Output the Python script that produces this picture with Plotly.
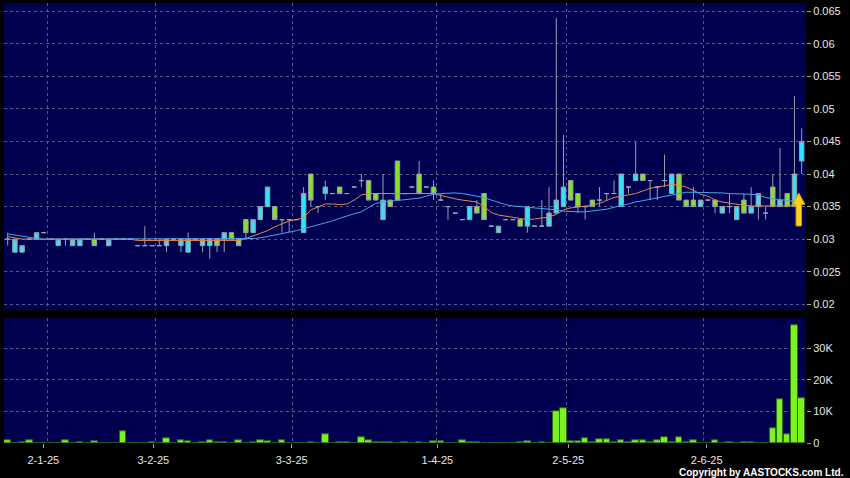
import plotly.graph_objects as go

# ---------------- data ----------------
opens = [0.030, 0.028, 0.028, 0.030, 0.030, 0.031, 0.030, 0.029, 0.030, 0.029,
         0.029, 0.030, 0.030, 0.030, 0.029, 0.030, 0.030, 0.030, 0.029, 0.029,
         0.029, 0.029, 0.029, 0.030, 0.029, 0.028, 0.030, 0.029, 0.029, 0.030,
         0.030, 0.031, 0.030, 0.033, 0.031, 0.033, 0.035, 0.035, 0.033, 0.033,
         0.033, 0.031, 0.040, 0.035, 0.037, 0.037, 0.038, 0.037, 0.038, 0.039,
         0.039, 0.037, 0.033, 0.036, 0.042, 0.037, 0.038, 0.040, 0.038, 0.038,
         0.036, 0.035, 0.034, 0.033, 0.033, 0.035, 0.037, 0.032, 0.031, 0.033,
         0.033, 0.033, 0.032, 0.032, 0.032, 0.032, 0.034, 0.035, 0.039, 0.037,
         0.035, 0.036, 0.036, 0.037, 0.037, 0.035, 0.038, 0.039, 0.040, 0.039,
         0.038, 0.039, 0.037, 0.040, 0.036, 0.036, 0.035, 0.036, 0.036, 0.034,
         0.035, 0.033, 0.036, 0.034, 0.035, 0.034, 0.038, 0.035, 0.037, 0.035,
         0.042]
highs = [0.031, 0.030, 0.029, 0.030, 0.031, 0.031, 0.030, 0.030, 0.030, 0.030,
         0.030, 0.030, 0.031, 0.030, 0.030, 0.030, 0.030, 0.030, 0.029, 0.032,
         0.029, 0.030, 0.030, 0.030, 0.030, 0.031, 0.030, 0.030, 0.030, 0.030,
         0.031, 0.031, 0.030, 0.033, 0.033, 0.035, 0.038, 0.035, 0.033, 0.033,
         0.033, 0.038, 0.040, 0.035, 0.039, 0.037, 0.038, 0.037, 0.038, 0.040,
         0.039, 0.037, 0.040, 0.036, 0.042, 0.037, 0.038, 0.042, 0.038, 0.039,
         0.037, 0.035, 0.034, 0.033, 0.035, 0.036, 0.037, 0.032, 0.032, 0.033,
         0.033, 0.033, 0.035, 0.032, 0.036, 0.038, 0.064, 0.046, 0.039, 0.037,
         0.035, 0.036, 0.038, 0.037, 0.039, 0.040, 0.038, 0.045, 0.040, 0.039,
         0.038, 0.043, 0.040, 0.040, 0.036, 0.038, 0.036, 0.036, 0.036, 0.035,
         0.037, 0.035, 0.037, 0.038, 0.037, 0.035, 0.040, 0.044, 0.037, 0.052,
         0.047]
lows = [0.029, 0.028, 0.028, 0.030, 0.030, 0.031, 0.030, 0.029, 0.029, 0.029,
        0.029, 0.030, 0.029, 0.030, 0.029, 0.030, 0.030, 0.030, 0.029, 0.029,
        0.029, 0.029, 0.028, 0.030, 0.028, 0.028, 0.030, 0.028, 0.027, 0.028,
        0.028, 0.030, 0.029, 0.030, 0.031, 0.033, 0.035, 0.033, 0.031, 0.031,
        0.033, 0.031, 0.035, 0.034, 0.036, 0.037, 0.037, 0.037, 0.038, 0.038,
        0.036, 0.036, 0.033, 0.035, 0.036, 0.037, 0.038, 0.037, 0.038, 0.036,
        0.036, 0.033, 0.034, 0.033, 0.033, 0.034, 0.033, 0.032, 0.031, 0.033,
        0.033, 0.032, 0.031, 0.032, 0.032, 0.032, 0.034, 0.035, 0.036, 0.034,
        0.033, 0.035, 0.035, 0.036, 0.037, 0.035, 0.037, 0.039, 0.039, 0.036,
        0.036, 0.038, 0.037, 0.036, 0.035, 0.035, 0.035, 0.036, 0.034, 0.034,
        0.034, 0.033, 0.034, 0.034, 0.033, 0.033, 0.035, 0.035, 0.035, 0.035,
        0.040]
closes = [0.030, 0.030, 0.029, 0.030, 0.031, 0.031, 0.030, 0.030, 0.030, 0.030,
          0.030, 0.030, 0.029, 0.030, 0.030, 0.030, 0.030, 0.030, 0.029, 0.029,
          0.029, 0.029, 0.030, 0.030, 0.030, 0.030, 0.030, 0.030, 0.030, 0.029,
          0.031, 0.030, 0.029, 0.031, 0.033, 0.035, 0.038, 0.033, 0.033, 0.033,
          0.033, 0.037, 0.036, 0.035, 0.038, 0.037, 0.037, 0.037, 0.038, 0.039,
          0.036, 0.036, 0.036, 0.035, 0.036, 0.037, 0.038, 0.037, 0.038, 0.037,
          0.036, 0.035, 0.034, 0.033, 0.035, 0.034, 0.033, 0.032, 0.032, 0.033,
          0.033, 0.032, 0.035, 0.032, 0.032, 0.034, 0.036, 0.038, 0.036, 0.035,
          0.035, 0.035, 0.036, 0.037, 0.037, 0.040, 0.038, 0.040, 0.039, 0.039,
          0.038, 0.039, 0.040, 0.036, 0.035, 0.035, 0.036, 0.036, 0.035, 0.035,
          0.035, 0.035, 0.034, 0.035, 0.037, 0.034, 0.035, 0.036, 0.035, 0.040,
          0.045]
volumes = [1000, 0, 300, 700, 0, 0, 0, 0, 700, 0,
           200, 0, 500, 0, 0, 0, 3600, 0, 0, 0,
           100, 0, 1500, 0, 700, 500, 0, 200, 700, 200,
           200, 0, 700, 0, 300, 800, 500, 0, 700, 0,
           0, 0, 300, 0, 2900, 0, 100, 100, 0, 1900,
           800, 200, 200, 200, 0, 300, 0, 300, 0, 600,
           400, 0, 0, 900, 200, 200, 0, 0, 0, 0,
           0, 200, 400, 0, 100, 0, 10000, 10900, 400, 400,
           1400, 200, 1200, 1200, 300, 900, 200, 1000, 700, 200,
           700, 1700, 200, 1800, 200, 700, 0, 0, 800, 0,
           300, 0, 200, 300, 0, 0, 4500, 13900, 2600, 37300,
           14100]
ma_short = [0.0304, 0.0302, 0.0300, 0.0300, 0.0300, 0.0300, 0.0300, 0.0300, 0.0300, 0.0300,
            0.0300, 0.0300, 0.0300, 0.0300, 0.0300, 0.0300, 0.0300, 0.0300, 0.0298, 0.0298,
            0.0298, 0.0298, 0.0298, 0.0298, 0.0298, 0.0298, 0.0298, 0.0298, 0.0298, 0.0298,
            0.0298, 0.0298, 0.0298, 0.0301, 0.0305, 0.0309, 0.0313, 0.0319, 0.0324, 0.0328,
            0.0330, 0.0333, 0.0345, 0.0350, 0.0354, 0.0354, 0.0353, 0.0354, 0.0360, 0.0368,
            0.0370, 0.0370, 0.0370, 0.0370, 0.0370, 0.0370, 0.0370, 0.0370, 0.0370, 0.0370,
            0.0367, 0.0364, 0.0362, 0.0360, 0.0358, 0.0357, 0.0350, 0.0341, 0.0337, 0.0335,
            0.0333, 0.0331, 0.0330, 0.0331, 0.0333, 0.0334, 0.0338, 0.0345, 0.0348, 0.0349,
            0.0350, 0.0352, 0.0355, 0.0359, 0.0364, 0.0366, 0.0368, 0.0370, 0.0374, 0.0378,
            0.0380, 0.0382, 0.0384, 0.0383, 0.0380, 0.0375, 0.0369, 0.0366, 0.0360, 0.0357,
            0.0355, 0.0354, 0.0352, 0.0351, 0.0351, 0.0351, 0.0351, 0.0351, 0.0351, 0.0353,
            0.0356]
ma_long = [0.0308, 0.0306, 0.0304, 0.0302, 0.0301, 0.0300, 0.0300, 0.0300, 0.0300, 0.0300,
           0.0300, 0.0300, 0.0300, 0.0300, 0.0300, 0.0300, 0.0300, 0.0300, 0.0300, 0.0300,
           0.0300, 0.0300, 0.0300, 0.0300, 0.0300, 0.0300, 0.0300, 0.0300, 0.0300, 0.0300,
           0.0300, 0.0300, 0.0300, 0.0300, 0.0301, 0.0302, 0.0304, 0.0306, 0.0309, 0.0311,
           0.0313, 0.0316, 0.0319, 0.0322, 0.0324, 0.0328, 0.0332, 0.0336, 0.0339, 0.0342,
           0.0348, 0.0355, 0.0357, 0.0358, 0.0359, 0.0360, 0.0361, 0.0363, 0.0366, 0.0369,
           0.0370, 0.0371, 0.0371, 0.0370, 0.0368, 0.0366, 0.0364, 0.0360, 0.0356, 0.0353,
           0.0351, 0.0350, 0.0350, 0.0349, 0.0348, 0.0347, 0.0345, 0.0343, 0.0342, 0.0342,
           0.0342, 0.0343, 0.0344, 0.0346, 0.0349, 0.0351, 0.0354, 0.0357, 0.0359, 0.0361,
           0.0363, 0.0366, 0.0368, 0.0370, 0.0372, 0.0372, 0.0372, 0.0372, 0.0371, 0.0371,
           0.0370, 0.0370, 0.0369, 0.0369, 0.0368, 0.0364, 0.0362, 0.0361, 0.0360, 0.0358,
           0.0357]

tick_labels = ["2-1-25", "3-2-25", "3-3-25", "1-4-25", "2-5-25", "2-6-25"]
tick_pos = [4.93, 20.17, 39.35, 59.52, 77.66, 96.84]
grid_pos = [5.54, 20.5, 39.48, 59.43, 77.44, 96.37]
price_ticks = [0.02, 0.025, 0.03, 0.035, 0.04, 0.045, 0.05, 0.055, 0.06, 0.065]
vol_ticks = [0, 10000, 20000, 30000]
vol_tick_text = ["0", "10K", "20K", "30K"]

# signal arrow (index position and tip price)
signal_x = 109.6
signal_tip = 0.0371

idx = list(range(len(closes)))

# ---------------- styling ----------------
NAVY = "#000050"
GRID = "#55558a"
TXT = "#e6e6e6"
FONT = "Liberation Sans, Arial, sans-serif"

fig = go.Figure()
fig.add_trace(go.Candlestick(
    x=idx, open=opens, high=highs, low=lows, close=closes,
    increasing=dict(line=dict(color="#9aa0aa", width=1), fillcolor="#33e2f7"),
    decreasing=dict(line=dict(color="#9aa0aa", width=1), fillcolor="#86e324"),
    whiskerwidth=0, xaxis="x", yaxis="y", showlegend=False, hoverinfo="skip"))
fig.add_trace(go.Scatter(x=idx, y=ma_short, mode="lines",
                         line=dict(color="#e8844a", width=1),
                         xaxis="x", yaxis="y", showlegend=False, hoverinfo="skip"))
fig.add_trace(go.Scatter(x=idx, y=ma_long, mode="lines",
                         line=dict(color="#3fa6ef", width=1),
                         xaxis="x", yaxis="y", showlegend=False, hoverinfo="skip"))
fig.add_trace(go.Bar(x=idx, y=volumes, width=0.9,
                     marker=dict(color="#7cf223", line=dict(color="#2f6a12", width=1)),
                     xaxis="x2", yaxis="y2", showlegend=False, hoverinfo="skip"))

# yellow up-arrow signal
hw, sw = 0.85, 0.38           # half widths in index units
ppu = 6511.0                  # pixels per price unit (for proportions)
tip = signal_tip
base = tip - 11.5 / ppu
bottom = tip - 33.0 / ppu
path = (f"M {signal_x},{tip} L {signal_x + hw},{base} L {signal_x + sw},{base} "
        f"L {signal_x + sw},{bottom} L {signal_x - sw},{bottom} L {signal_x - sw},{base} "
        f"L {signal_x - hw},{base} Z")
fig.add_shape(type="path", path=path, xref="x", yref="y",
              fillcolor="#ffd21f", line=dict(color="#d99a00", width=1), layer="above")

axis_common = dict(zeroline=False, showline=False)
fig.update_layout(
    width=850, height=478,
    margin=dict(l=4, r=44, t=3, b=35),
    paper_bgcolor="#000000", plot_bgcolor=NAVY,
    font=dict(family=FONT, size=11, color=TXT),
    boxgap=0.12, bargap=0,
    showlegend=False,
    xaxis=dict(domain=[0, 1], range=[-0.51, 110.6], anchor="y",
               tickmode="array", tickvals=grid_pos, showticklabels=False, ticks="",
               showgrid=True, gridcolor=GRID, griddash="3px,3px", gridwidth=1,
               rangeslider=dict(visible=False), **axis_common),
    xaxis2=dict(domain=[0, 1], range=[-0.51, 110.6], anchor="y2", matches="x",
                tickmode="array", tickvals=tick_pos, ticktext=tick_labels,
                ticks="outside", ticklen=4, tickcolor="#a0a0a0", showgrid=False,
                ticklabelstandoff=3,
                tickfont=dict(family=FONT, size=11, color=TXT),
                minor=dict(tickmode="array", tickvals=grid_pos, showgrid=True,
                           gridcolor=GRID, griddash="3px,3px", ticks=""),
                **axis_common),
    yaxis=dict(domain=[0.3023, 1], range=[0.01912, 0.06627], anchor="x", side="right",
               tickmode="array", tickvals=price_ticks,
               ticktext=[f"{v:g}" for v in price_ticks],
               ticks="outside", ticklen=4, tickcolor="#a0a0a0",
               showgrid=True, gridcolor=GRID, griddash="3px,3px",
               tickfont=dict(family=FONT, size=11, color=TXT), **axis_common),
    yaxis2=dict(domain=[0, 0.2834], range=[0, 39470], anchor="x2", side="right",
                tickmode="array", tickvals=vol_ticks, ticktext=vol_tick_text,
                ticks="outside", ticklen=4, tickcolor="#a0a0a0",
                showgrid=True, gridcolor=GRID, griddash="3px,3px",
                tickfont=dict(family=FONT, size=11, color=TXT), **axis_common),
)

fig.add_annotation(text="<b>Copyright by AASTOCKS.com Ltd.</b>", xref="paper", yref="paper",
                   x=1.0495, y=-0.066, xanchor="right", yanchor="middle", showarrow=False,
                   font=dict(family=FONT, size=10, color="#ffffff"))

fig.write_html("out.html", config={"displayModeBar": False},
               post_script="document.body.style.margin='0';document.body.style.overflow='hidden';")
